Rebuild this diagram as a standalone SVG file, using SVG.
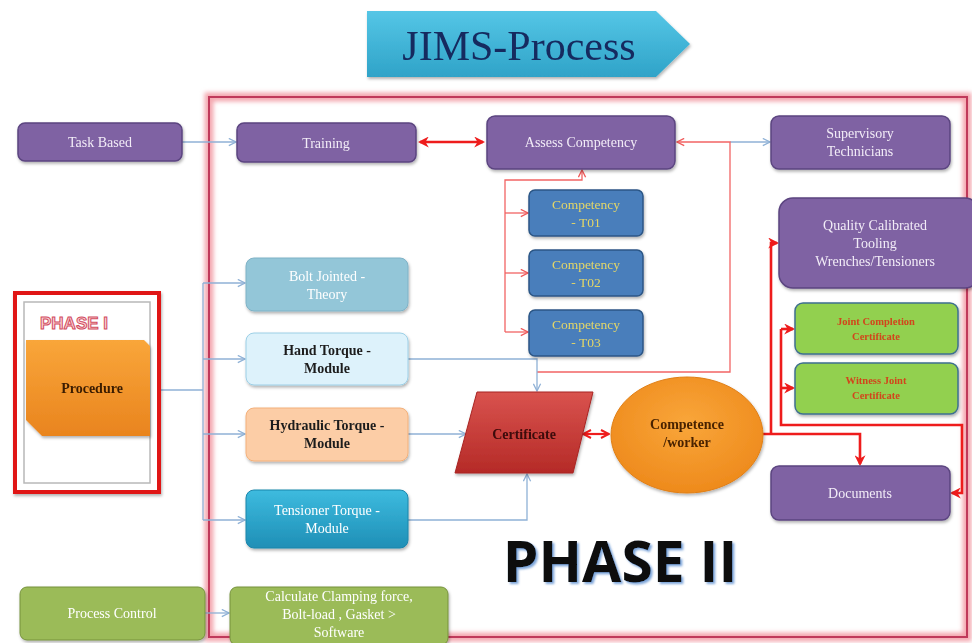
<svg xmlns="http://www.w3.org/2000/svg" width="972" height="643" viewBox="0 0 972 643">
<defs>
  <linearGradient id="gTitle" x1="0" y1="0" x2="0" y2="1"><stop offset="0" stop-color="#55c6e6"/><stop offset="1" stop-color="#2fa3c8"/></linearGradient>
  <linearGradient id="gOrange" x1="0" y1="0" x2="0" y2="1"><stop offset="0" stop-color="#f9a63a"/><stop offset="1" stop-color="#e9841e"/></linearGradient>
  <linearGradient id="gTeal" x1="0" y1="0" x2="0" y2="1"><stop offset="0" stop-color="#3dbbdf"/><stop offset="1" stop-color="#1f8fb6"/></linearGradient>
  <linearGradient id="gRed" x1="0" y1="0" x2="0" y2="1"><stop offset="0" stop-color="#d9534e"/><stop offset="1" stop-color="#b52a27"/></linearGradient>
  <radialGradient id="gEll" cx="0.5" cy="0.4" r="0.6"><stop offset="0" stop-color="#f9a63a"/><stop offset="1" stop-color="#ee8a1c"/></radialGradient>
  <filter id="sh" x="-10%" y="-10%" width="125%" height="135%"><feDropShadow dx="1" dy="2" stdDeviation="1.5" flood-color="#000" flood-opacity="0.3"/></filter>
  <filter id="bsh" x="-5%" y="-10%" width="115%" height="130%"><feDropShadow dx="2" dy="2" stdDeviation="1" flood-color="#5b8fd0" flood-opacity="0.8"/></filter>
  <filter id="glow" x="-5%" y="-5%" width="110%" height="110%"><feGaussianBlur stdDeviation="2"/></filter>
  <marker id="aBlue" viewBox="0 0 10 10" refX="9" refY="5" markerWidth="9" markerHeight="9" markerUnits="userSpaceOnUse" orient="auto"><path d="M1,1 L9,5 L1,9" fill="none" stroke="#8fb1d6" stroke-width="1.4"/></marker>
  <marker id="aRedThin" viewBox="0 0 10 10" refX="9" refY="5" markerWidth="9" markerHeight="9" markerUnits="userSpaceOnUse" orient="auto"><path d="M1,1 L9,5 L1,9" fill="none" stroke="#f05a5a" stroke-width="1.5"/></marker>
  <marker id="aRed" viewBox="0 0 10 10" refX="8" refY="5" markerWidth="11" markerHeight="11" markerUnits="userSpaceOnUse" orient="auto-start-reverse"><path d="M0,0 L10,5 L0,10 L3,5 Z" fill="#ee1c1c"/></marker>
  <marker id="aDia" viewBox="0 0 10 10" refX="9" refY="5" markerWidth="10" markerHeight="10" markerUnits="userSpaceOnUse" orient="auto-start-reverse"><path d="M1,1 L9,5 L1,9" fill="none" stroke="#ee1c1c" stroke-width="2"/></marker>
  <style>
    .t{font-family:"Liberation Serif","DejaVu Serif",serif;text-anchor:middle;}
    .pur{fill:#7f62a3;stroke:#5b4580;stroke-width:1.5;}
    .pt{fill:#f2ecf7;font-size:14px;}
    .comp{fill:#4a7ebb;stroke:#2c5686;stroke-width:1.5;}
    .ct{fill:#e3d667;font-size:13.5px;}
    .grn{fill:#92d050;stroke:#3e6f8e;stroke-width:1.5;}
    .gt{fill:#d2451b;font-size:10.5px;font-weight:bold;}
    .olive{fill:#9bbb59;stroke:#76923c;stroke-width:1;}
    .wt{fill:#ffffff;font-size:14px;}
    .dt{fill:#1e1e1e;font-size:14px;font-weight:bold;}
    .bl{fill:none;stroke:#8fb1d6;stroke-width:1.3;}
    .rt{fill:none;stroke:#f26464;stroke-width:1.3;}
    .rk{fill:none;stroke:#ee1c1c;stroke-width:2.6;}
  </style>
</defs>
<rect width="972" height="643" fill="#ffffff"/>

<!-- Title -->
<g id="title" filter="url(#sh)">
  <path d="M367,11 L656,11 L690,44 L656,77 L367,77 Z" fill="url(#gTitle)"/>
  <text class="t" x="519" y="60" font-size="42" fill="#142a5e">JIMS-Process</text>
</g>

<!-- PHASE II frame -->
<g id="phase2-frame">
  <rect x="209" y="97" width="758" height="540" fill="none" stroke="#f4a8b0" stroke-width="9" filter="url(#glow)"/>
  <rect x="209" y="97" width="758" height="540" fill="none" stroke="#c0395a" stroke-width="2"/>
  <text x="620" y="582" font-family="'Open Sans','Liberation Sans',sans-serif" font-weight="bold" font-size="57" text-anchor="middle" fill="#111111" filter="url(#bsh)">PHASE II</text>
</g>

<!-- Connectors -->
<g id="connectors">
  <line class="bl" x1="182" y1="142" x2="236" y2="142" marker-end="url(#aBlue)"/>
  <line class="rk" x1="420" y1="142" x2="483" y2="142" marker-start="url(#aRed)" marker-end="url(#aRed)" stroke-width="2.2"/>
  <line class="bl" x1="730" y1="142" x2="770" y2="142" marker-end="url(#aBlue)"/>
  <polyline class="rt" points="537,372 730,372 730,142 677,142" marker-end="url(#aRedThin)"/>
  <polyline class="rt" points="505,332 505,180 582,180 582,170" marker-end="url(#aRedThin)"/>
  <line class="rt" x1="505" y1="213" x2="528" y2="213" marker-end="url(#aRedThin)"/>
  <line class="rt" x1="505" y1="273" x2="528" y2="273" marker-end="url(#aRedThin)"/>
  <line class="rt" x1="505" y1="332" x2="528" y2="332" marker-end="url(#aRedThin)"/>
  <line class="bl" x1="160" y1="390" x2="203" y2="390"/>
  <line class="bl" x1="203" y1="283" x2="203" y2="520"/>
  <line class="bl" x1="203" y1="283" x2="245" y2="283" marker-end="url(#aBlue)"/>
  <line class="bl" x1="203" y1="359" x2="245" y2="359" marker-end="url(#aBlue)"/>
  <line class="bl" x1="203" y1="434" x2="245" y2="434" marker-end="url(#aBlue)"/>
  <line class="bl" x1="203" y1="520" x2="245" y2="520" marker-end="url(#aBlue)"/>
  <polyline class="bl" points="408,359 537,359 537,391" marker-end="url(#aBlue)"/>
  <line class="bl" x1="408" y1="434" x2="466" y2="434" marker-end="url(#aBlue)"/>
  <polyline class="bl" points="408,520 527,520 527,474" marker-end="url(#aBlue)"/>
  <line class="bl" x1="205" y1="613" x2="229" y2="613" marker-end="url(#aBlue)"/>
  <line x1="583" y1="434" x2="609" y2="434" stroke="#ee1c1c" stroke-width="2.2" marker-start="url(#aDia)" marker-end="url(#aDia)"/>
  <polyline class="rk" points="762,434 860,434 860,464" marker-end="url(#aRed)"/>
  <polyline class="rk" points="771,434 771,243 777,243" marker-end="url(#aRed)"/>
  <polyline class="rk" points="781,329 781,425 962,425 962,493 952,493" marker-end="url(#aRed)"/>
  <line class="rk" x1="781" y1="329" x2="793" y2="329" marker-end="url(#aRed)"/>
  <line class="rk" x1="781" y1="388" x2="793" y2="388" marker-end="url(#aRed)"/>
</g>

<!-- Nodes -->
<g id="task-based" filter="url(#sh)"><rect class="pur" x="18" y="123" width="164" height="38" rx="7"/><text class="t pt" x="100" y="147">Task  Based</text></g>
<g id="training" filter="url(#sh)"><rect class="pur" x="237" y="123" width="179" height="39" rx="7"/><text class="t pt" x="326" y="148">Training</text></g>
<g id="assess-competency" filter="url(#sh)"><rect class="pur" x="487" y="116" width="188" height="53" rx="8"/><text class="t pt" x="581" y="147">Assess  Competency</text></g>
<g id="supervisory-technicians" filter="url(#sh)"><rect class="pur" x="771" y="116" width="179" height="53" rx="8"/><text class="t pt" x="860" y="138">Supervisory</text><text class="t pt" x="860" y="156">Technicians</text></g>

<g id="competency-t01" filter="url(#sh)"><rect class="comp" x="529" y="190" width="114" height="46" rx="6"/><text class="t ct" x="586" y="209">Competency</text><text class="t ct" x="586" y="227">- T01</text></g>
<g id="competency-t02" filter="url(#sh)"><rect class="comp" x="529" y="250" width="114" height="46" rx="6"/><text class="t ct" x="586" y="269">Competency</text><text class="t ct" x="586" y="287">- T02</text></g>
<g id="competency-t03" filter="url(#sh)"><rect class="comp" x="529" y="310" width="114" height="46" rx="6"/><text class="t ct" x="586" y="329">Competency</text><text class="t ct" x="586" y="347">- T03</text></g>

<g id="quality-tooling" filter="url(#sh)"><rect class="pur" x="779" y="198" width="200" height="90" rx="14"/><text class="t pt" x="875" y="230">Quality  Calibrated</text><text class="t pt" x="875" y="248">Tooling</text><text class="t pt" x="875" y="266">Wrenches/Tensioners</text></g>
<g id="joint-completion" filter="url(#sh)"><rect class="grn" x="795" y="303" width="163" height="51" rx="8"/><text class="t gt" x="876" y="325">Joint Completion</text><text class="t gt" x="876" y="340">Certificate</text></g>
<g id="witness-joint" filter="url(#sh)"><rect class="grn" x="795" y="363" width="163" height="51" rx="8"/><text class="t gt" x="876" y="384">Witness Joint</text><text class="t gt" x="876" y="399">Certificate</text></g>
<g id="documents" filter="url(#sh)"><rect class="pur" x="771" y="466" width="179" height="54" rx="8"/><text class="t pt" x="860" y="498">Documents</text></g>

<g id="bolt-jointed" filter="url(#sh)"><rect x="246" y="258" width="162" height="53" rx="8" fill="#93c6d8" stroke="#7fb2c6" stroke-width="1"/><text class="t wt" x="327" y="281">Bolt Jointed -</text><text class="t wt" x="327" y="299">Theory</text></g>
<g id="hand-torque" filter="url(#sh)"><rect x="246" y="333" width="162" height="52" rx="8" fill="#ddf2fb" stroke="#9ccfe6" stroke-width="1"/><text class="t dt" x="327" y="355">Hand  Torque -</text><text class="t dt" x="327" y="373">Module</text></g>
<g id="hydraulic-torque" filter="url(#sh)"><rect x="246" y="408" width="162" height="53" rx="8" fill="#fccda6" stroke="#f3b07a" stroke-width="1"/><text class="t dt" x="327" y="430">Hydraulic  Torque -</text><text class="t dt" x="327" y="448">Module</text></g>
<g id="tensioner-torque" filter="url(#sh)"><rect x="246" y="490" width="162" height="58" rx="8" fill="url(#gTeal)" stroke="#1d86ab" stroke-width="1"/><text class="t wt" x="327" y="515">Tensioner Torque -</text><text class="t wt" x="327" y="533">Module</text></g>

<g id="certificate" filter="url(#sh)"><polygon points="477,392 593,392 573,473 455,473" fill="url(#gRed)" stroke="#a82422" stroke-width="1"/><text class="t" x="524" y="439" font-size="14" font-weight="bold" fill="#3a0808">Certificate</text></g>
<g id="competence-worker" filter="url(#sh)"><ellipse cx="687" cy="435" rx="76" ry="58" fill="url(#gEll)" stroke="#e07f15" stroke-width="1"/><text class="t" x="687" y="429" font-size="14" font-weight="bold" fill="#4a2400">Competence</text><text class="t" x="687" y="447" font-size="14" font-weight="bold" fill="#4a2400">/worker</text></g>

<g id="phase1">
  <rect x="15" y="293" width="144" height="199" fill="#ffffff" stroke="#e01818" stroke-width="4" filter="url(#sh)"/>
  <rect x="24" y="302" width="126" height="181" fill="none" stroke="#b8b8b8" stroke-width="1.5"/>
  <text x="40" y="329" font-family="'Liberation Sans','DejaVu Sans',sans-serif" font-weight="bold" font-size="17" fill="#f9d4d6" stroke="#d24b5e" stroke-width="1">PHASE I</text>
  <g id="procedure" filter="url(#sh)">
    <path d="M26,340 L144,340 L150,346 L150,436 L42,436 L26,420 Z" fill="url(#gOrange)"/>
    <text class="t" x="92" y="393" font-size="14" font-weight="bold" fill="#3a1c00">Procedure</text>
  </g>
</g>

<g id="process-control" filter="url(#sh)"><rect class="olive" x="20" y="587" width="185" height="53" rx="7"/><text class="t wt" x="112" y="618">Process   Control</text></g>
<g id="calculate" filter="url(#sh)"><rect class="olive" x="230" y="587" width="218" height="58" rx="7"/><text class="t wt" x="339" y="601" font-size="13.5">Calculate  Clamping  force,</text><text class="t wt" x="339" y="619" font-size="13.5">Bolt-load , Gasket &gt;</text><text class="t wt" x="339" y="637" font-size="13.5">Software</text></g>
</svg>
